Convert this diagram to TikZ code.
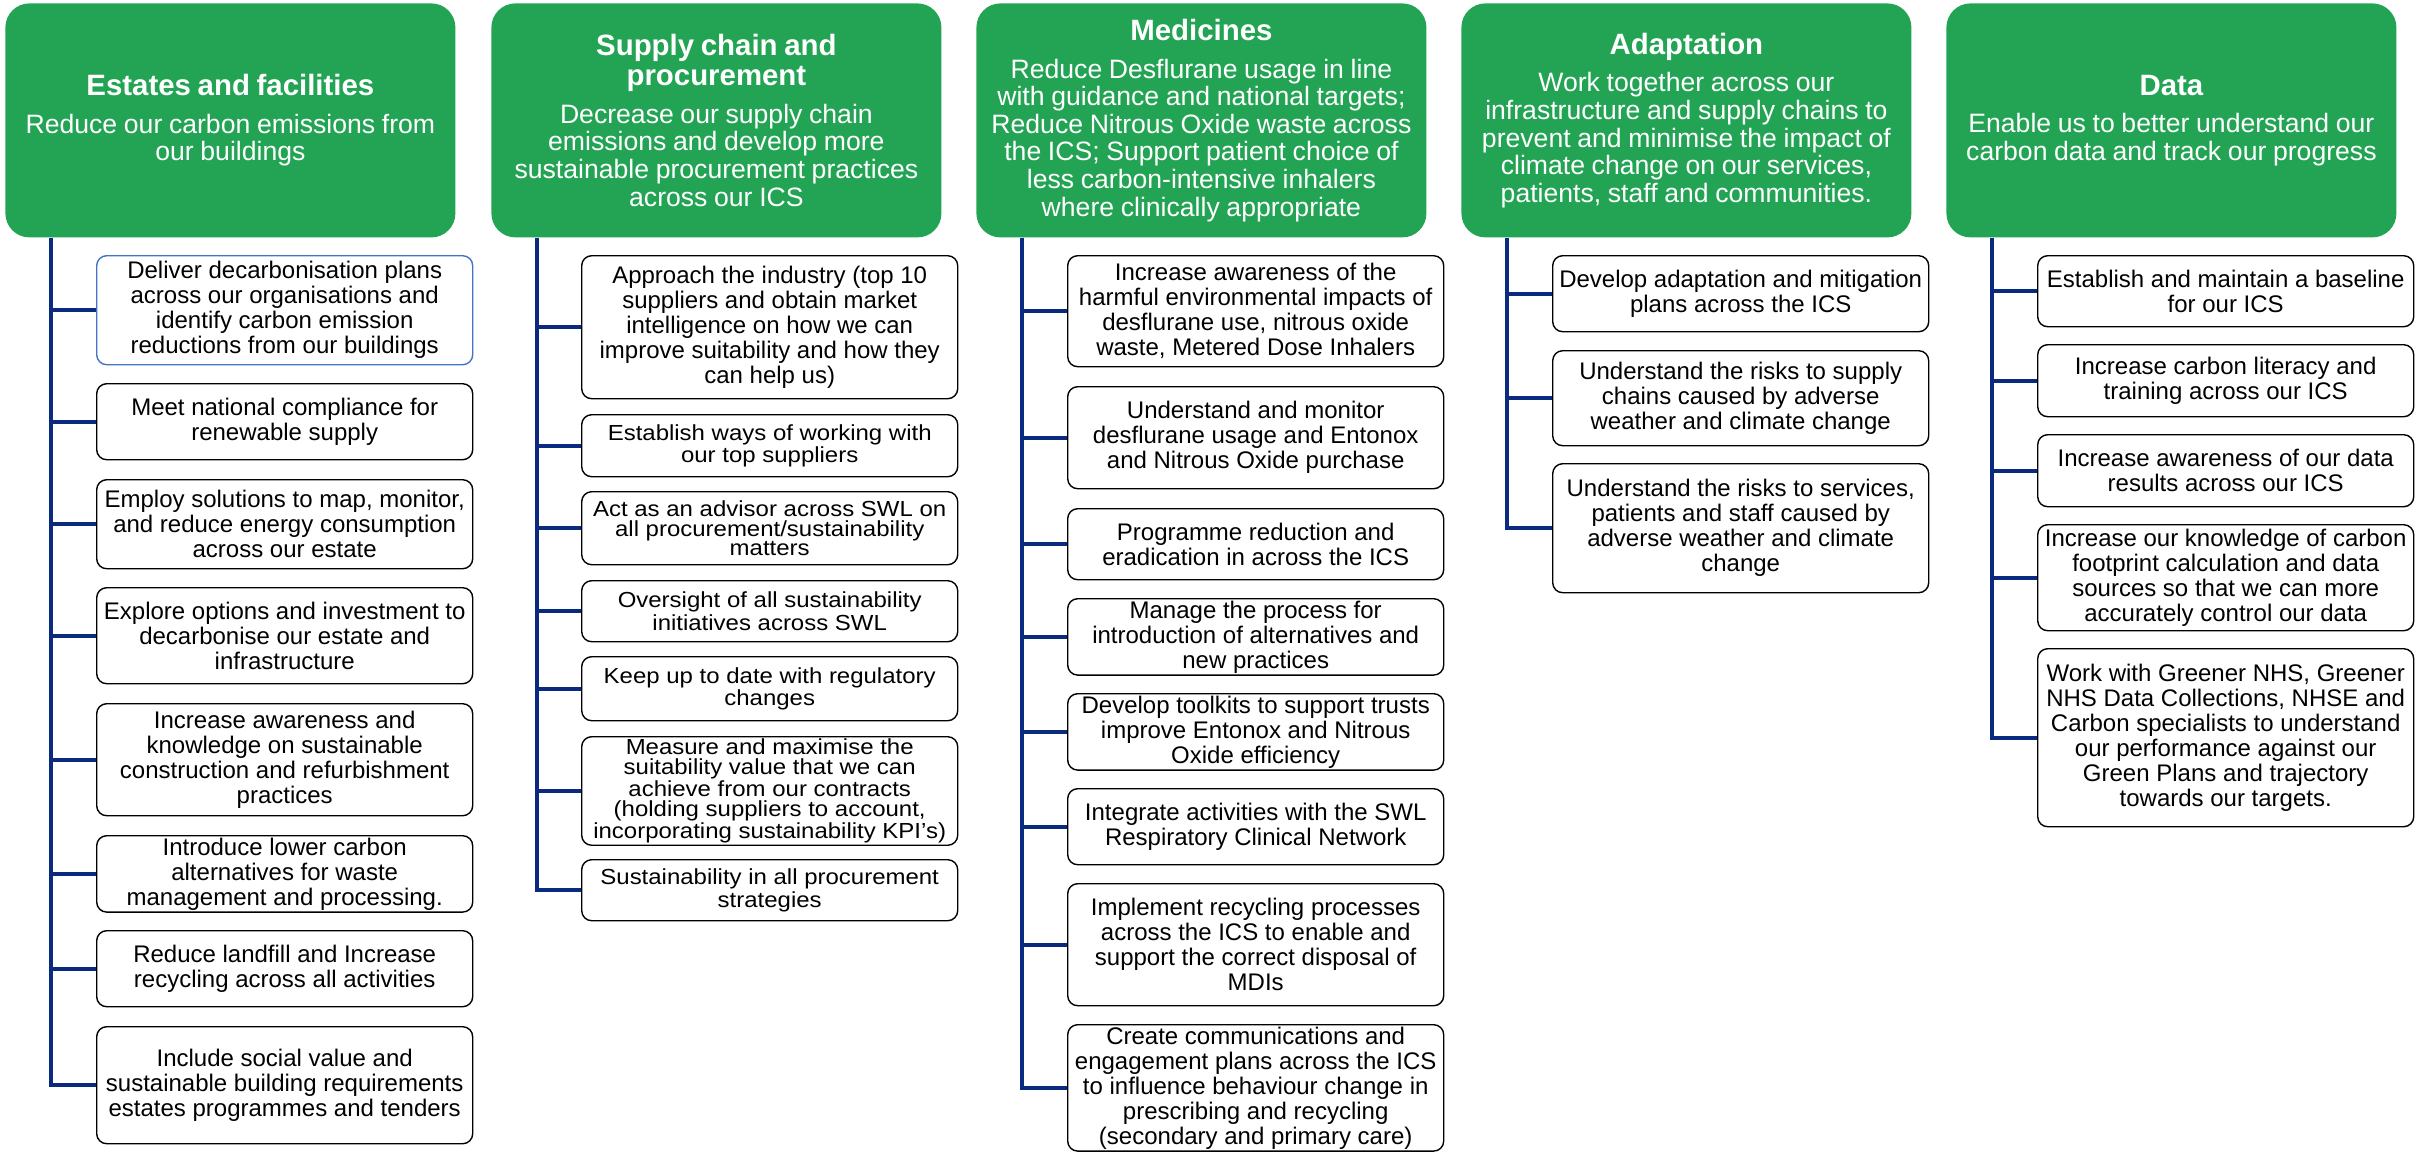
\documentclass[tikz,border=0pt]{standalone}
\usepackage{fontspec}
\setmainfont{Liberation Sans}
\newfontfamily\squeezed[FakeStretch=1.1]{Liberation Sans}
\usepackage{xcolor}
\usepackage{tikz}

\definecolor{hdrgreen}{RGB}{35,164,84}
\definecolor{linkblue}{RGB}{10,42,128}
\definecolor{edgeblue}{RGB}{68,114,196}

\begin{document}
\begin{tikzpicture}[x=0.5pt, y=-0.5pt,
    header/.style={fill=hdrgreen, rounded corners=12pt, text=white, anchor=north west,
        minimum width=225pt, minimum height=117pt, text width=221pt, align=center, inner sep=2pt},
    task/.style={draw=black, line width=0.7pt, fill=white, rounded corners=5pt, anchor=north west,
        minimum width=188pt, align=center, inner sep=1pt, font=\fontsize{12}{12.5}\selectfont},
    tight/.style={font=\squeezed\fontsize{10.9}{9.9}\selectfont},
    link/.style={linkblue, line width=2pt}]

    \useasboundingbox (0,0) rectangle (2420,1152);

    % Headers
    \node[header] (h1) at (5,3) {{\fontsize{14.7}{15}\selectfont\bfseries Estates and facilities\par}\vspace{5pt}
        {\fontsize{13.3}{13.8}\selectfont Reduce our carbon emissions from\\our buildings\par}};
    \node[header] (h2) at (491,3) {{\fontsize{14.7}{15}\selectfont\bfseries Supply chain and\\procurement\par}\vspace{5pt}
        {\fontsize{13.3}{13.8}\selectfont Decrease our supply chain\\emissions and develop more\\sustainable procurement practices\\across our ICS\par}};
    \node[header] (h3) at (976,3) {{\fontsize{14.7}{15}\selectfont\bfseries Medicines\par}\vspace{5pt}
        {\fontsize{13.3}{13.8}\selectfont Reduce Desflurane usage in line\\with guidance and national targets;\\Reduce Nitrous Oxide waste across\\the ICS; Support patient choice of\\less carbon-intensive inhalers\\where clinically appropriate\par}};
    \node[header] (h4) at (1461,3) {{\fontsize{14.7}{15}\selectfont\bfseries Adaptation\par}\vspace{5pt}
        {\fontsize{13.3}{13.8}\selectfont Work together across our\\infrastructure and supply chains to\\prevent and minimise the impact of\\climate change on our services,\\patients, staff and communities.\par}};
    \node[header] (h5) at (1946,3) {{\fontsize{14.7}{15}\selectfont\bfseries Data\par}\vspace{5pt}
        {\fontsize{13.3}{13.8}\selectfont Enable us to better understand our\\carbon data and track our progress\par}};

    % Estates and facilities
    \node[task, draw=edgeblue, minimum height=54.5pt] (e1) at (96,255) {Deliver decarbonisation plans\\across our organisations and\\identify carbon emission\\reductions from our buildings};
    \node[task, minimum height=38pt] (e2) at (96,383) {Meet national compliance for\\renewable supply};
    \node[task, minimum height=44.5pt] (e3) at (96,479) {Employ solutions to map, monitor,\\and reduce energy consumption\\across our estate};
    \node[task, minimum height=48pt] (e4) at (96,587) {Explore options and investment to\\decarbonise our estate and\\infrastructure};
    \node[task, minimum height=56pt] (e5) at (96,703) {Increase awareness and\\knowledge on sustainable\\construction and refurbishment\\practices};
    \node[task, minimum height=38pt] (e6) at (96,835) {Introduce lower carbon\\alternatives for waste\\management and processing.};
    \node[task, minimum height=38pt] (e7) at (96,930) {Reduce landfill and Increase\\recycling across all activities};
    \node[task, minimum height=58.5pt] (e8) at (96,1026) {Include social value and\\sustainable building requirements\\estates programmes and tenders};

    % Supply chain and procurement
    \node[task, minimum height=71.5pt] (s1) at (581,255) {Approach the industry (top 10\\suppliers and obtain market\\intelligence on how we can\\improve suitability and how they\\can help us)};
    \node[task, tight, minimum height=31pt] (s2) at (581,414) {Establish ways of working with\\our top suppliers};
    \node[task, tight, minimum height=36.5pt] (s3) at (581,491) {Act as an advisor across SWL on\\all procurement/sustainability\\matters};
    \node[task, tight, minimum height=30.5pt] (s4) at (581,580) {Oversight of all sustainability\\initiatives across SWL};
    \node[task, tight, minimum height=32pt] (s5) at (581,656) {Keep up to date with regulatory\\changes};
    \node[task, tight, minimum height=54pt] (s6) at (581,736) {Measure and maximise the\\suitability value that we can\\achieve from our contracts\\(holding suppliers to account,\\incorporating sustainability KPI’s)};
    \node[task, tight, minimum height=30.5pt] (s7) at (581,859) {Sustainability in all procurement\\strategies};

    % Medicines
    \node[task, minimum height=55.5pt] (m1) at (1067,255) {Increase awareness of the\\harmful environmental impacts of\\desflurane use, nitrous oxide\\waste, Metered Dose Inhalers};
    \node[task, minimum height=51pt] (m2) at (1067,386) {Understand and monitor\\desflurane usage and Entonox\\and Nitrous Oxide purchase};
    \node[task, minimum height=35.5pt] (m3) at (1067,508) {Programme reduction and\\eradication in across the ICS};
    \node[task, minimum height=38pt] (m4) at (1067,598) {Manage the process for\\introduction of alternatives and\\new practices};
    \node[task, minimum height=38pt] (m5) at (1067,693) {Develop toolkits to support trusts\\improve Entonox and Nitrous\\Oxide efficiency};
    \node[task, minimum height=38pt] (m6) at (1067,788) {Integrate activities with the SWL\\Respiratory Clinical Network};
    \node[task, minimum height=61pt] (m7) at (1067,883) {Implement recycling processes\\across the ICS to enable and\\support the correct disposal of\\MDIs};
    \node[task, minimum height=63pt] (m8) at (1067,1024) {Create communications and\\engagement plans across the ICS\\to influence behaviour change in\\prescribing and recycling\\(secondary and primary care)};

    % Adaptation
    \node[task, minimum height=38pt] (a1) at (1552,255) {Develop adaptation and mitigation\\plans across the ICS};
    \node[task, minimum height=47.5pt] (a2) at (1552,350) {Understand the risks to supply\\chains caused by adverse\\weather and climate change};
    \node[task, minimum height=64.5pt] (a3) at (1552,463) {Understand the risks to services,\\patients and staff caused by\\adverse weather and climate\\change};

    % Data
    \node[task, minimum height=35.5pt] (d1) at (2037,255) {Establish and maintain a baseline\\for our ICS};
    \node[task, minimum height=36pt] (d2) at (2037,344) {Increase carbon literacy and\\training across our ICS};
    \node[task, minimum height=36pt] (d3) at (2037,434) {Increase awareness of our data\\results across our ICS};
    \node[task, minimum height=53pt] (d4) at (2037,524) {Increase our knowledge of carbon\\footprint calculation and data\\sources so that we can more\\accurately control our data};
    \node[task, minimum height=89pt] (d5) at (2037,648) {Work with Greener NHS, Greener\\NHS Data Collections, NHSE and\\Carbon specialists to understand\\our performance against our\\Green Plans and trajectory\\towards our targets.};

    % Connectors
    \foreach \k in {1,...,8} {
        \draw[link] ([xshift=23pt]h1.south west) |- (e\k.west);
        \draw[link] ([xshift=23pt]h3.south west) |- (m\k.west);
    }
    \foreach \k in {1,...,7} {
        \draw[link] ([xshift=23pt]h2.south west) |- (s\k.west);
    }
    \foreach \k in {1,...,3} {
        \draw[link] ([xshift=23pt]h4.south west) |- (a\k.west);
    }
    \foreach \k in {1,...,5} {
        \draw[link] ([xshift=23pt]h5.south west) |- (d\k.west);
    }
\end{tikzpicture}
\end{document}
